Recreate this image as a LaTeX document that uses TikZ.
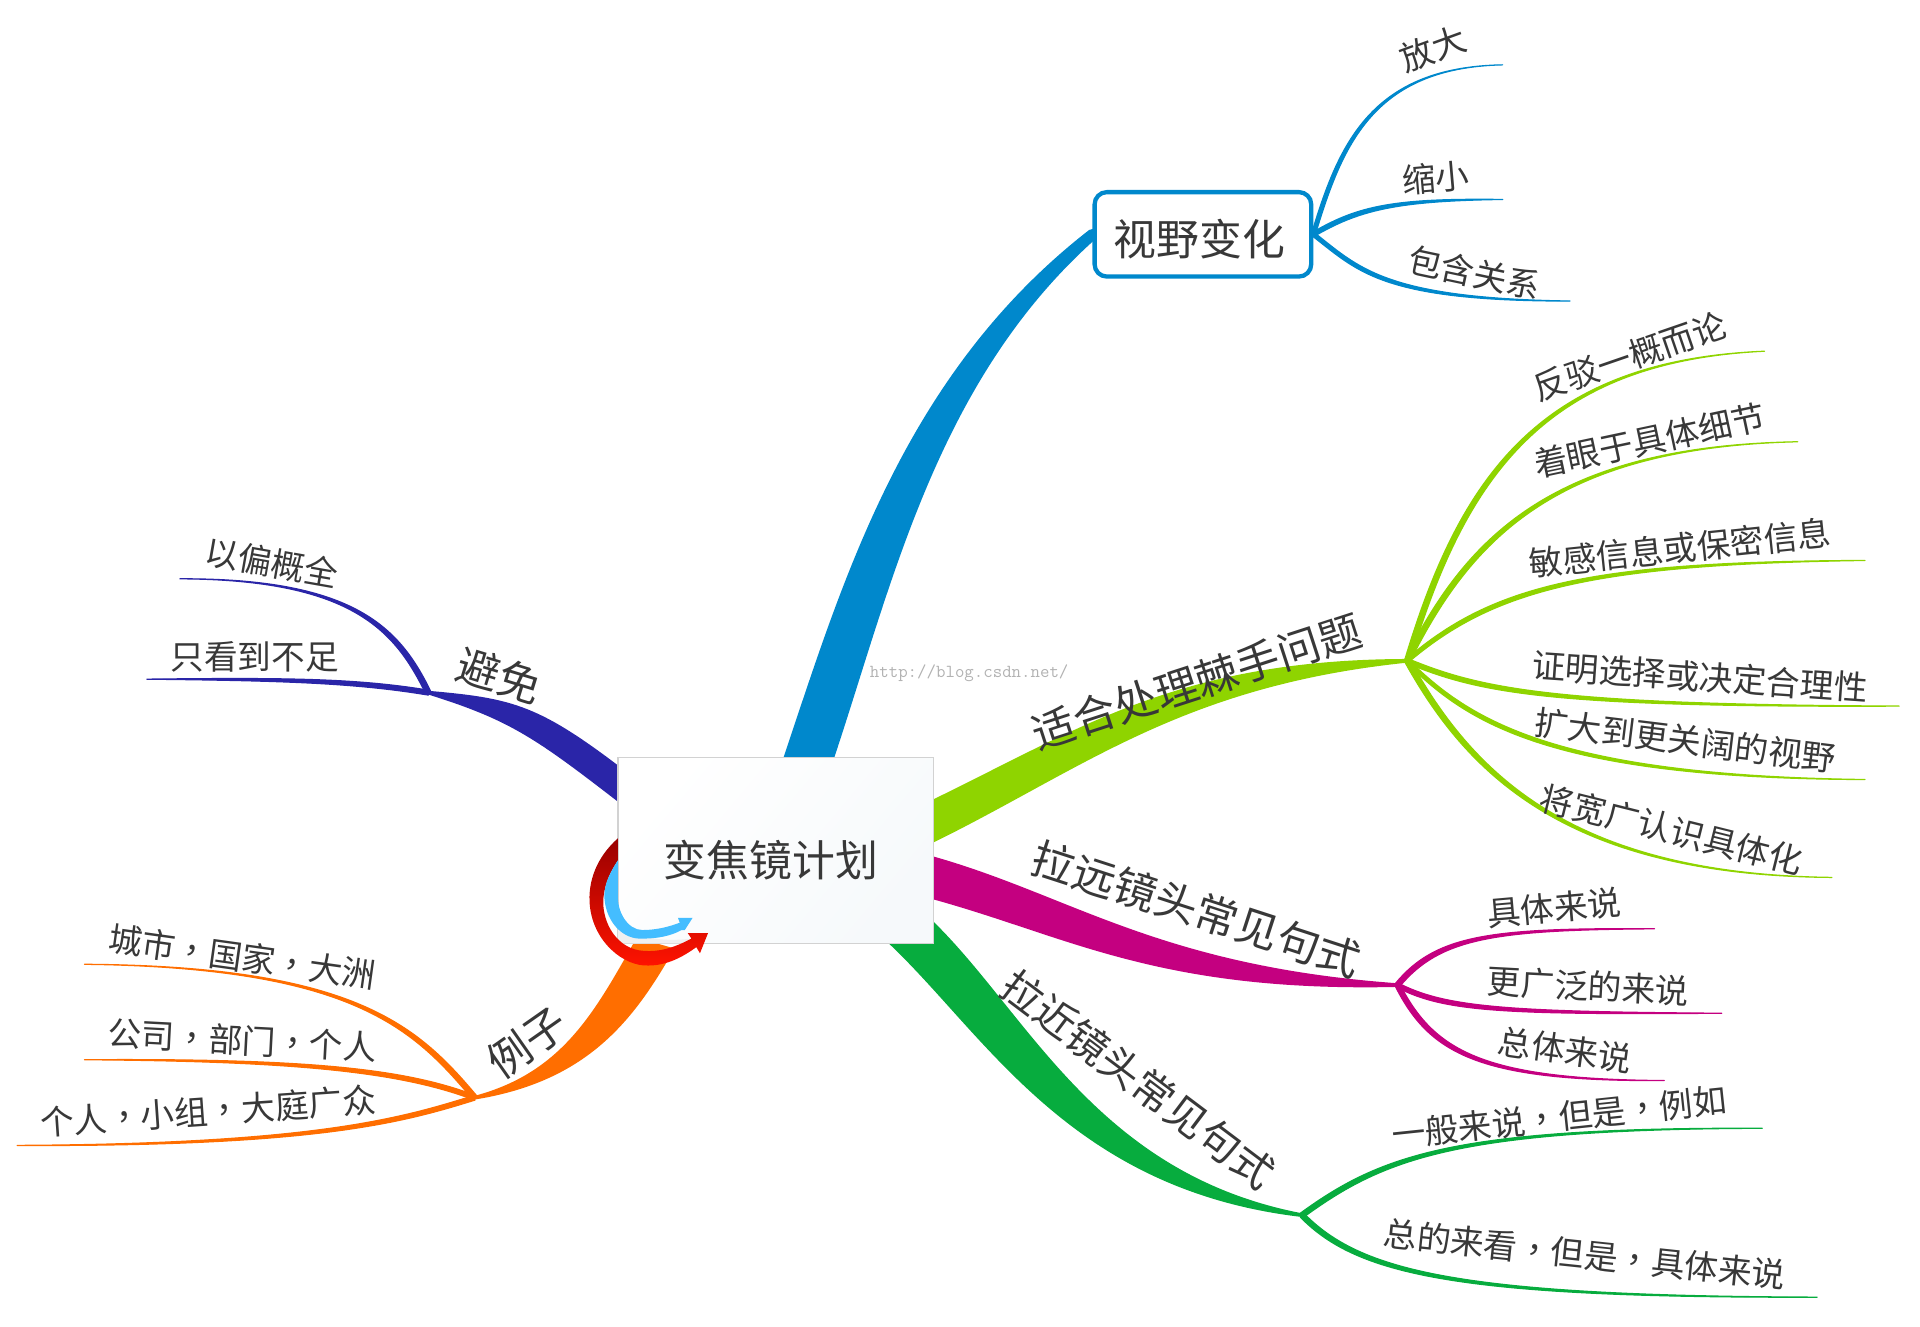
\documentclass[tikz,border=0pt]{standalone}
\usepackage{fontspec}
\setmainfont{Noto Sans CJK SC}
\newfontfamily\tcfont{Noto Sans CJK TC}
\usetikzlibrary{calc}
\pgfdeclarelayer{back}
\pgfsetlayers{back,main}
\definecolor{cblue}{HTML}{0088CC}
\definecolor{clime}{HTML}{8FD400}
\definecolor{cmag}{HTML}{C40080}
\definecolor{cgreen}{HTML}{07AC3E}
\definecolor{cnavy}{HTML}{2A25A8}
\definecolor{corange}{HTML}{FF6E00}
\definecolor{ctext}{HTML}{383838}
\definecolor{csky}{HTML}{44BDFF}
\definecolor{ctint}{HTML}{F6F9FB}
% tapered branch: style, start, control, control, end, half width at the start
\newcommand{\twig}[6]{\path[#1] ($(#2)+(#6)$) .. controls ($(#3)+(#6)$) and ($(#4)+0.6*(#6)$) .. (#5) .. controls ($(#4)-0.6*(#6)$) and ($(#3)-(#6)$) .. ($(#2)-(#6)$) -- cycle;}
% centred comma
\newcommand{\cma}{{\tcfont ，}}
\begin{document}
\begin{tikzpicture}[x=1pt,y=-1pt]
\tikzstyle{tx}=[inner sep=0pt, text=ctext, font=\fontsize{27.5}{30}\selectfont]
\tikzstyle{big}=[tx, font=\fontsize{35}{40}\selectfont]
\tikzstyle{blue}=[fill=cblue, draw=cblue, line width=1pt, line join=round]
\tikzstyle{lime}=[fill=clime, draw=clime, line width=1pt, line join=round]
\tikzstyle{mag}=[fill=cmag, draw=cmag, line width=1pt, line join=round]
\tikzstyle{green}=[fill=cgreen, draw=cgreen, line width=1pt, line join=round]
\tikzstyle{navy}=[fill=cnavy, draw=cnavy, line width=1pt, line join=round]
\tikzstyle{orange}=[fill=corange, draw=corange, line width=1pt, line join=round]
\tikzstyle{fat}=[line width=3pt]
\useasboundingbox (0,0) rectangle (1569,1084);

% junctions and free ends
\coordinate (Jlime) at (1150,540);
\coordinate (Jmag) at (1142,805);
\coordinate (Jgreen) at (1064,993);
\coordinate (Jnavy) at (350,566);
\coordinate (Jorange) at (388,897);
\coordinate (Sblue) at (659,625);
\coordinate (Slime) at (750,677);
\coordinate (Smag) at (750,714);
\coordinate (Sgreen) at (737,755);
\coordinate (Snavy) at (515,648);
\coordinate (Sorange) at (535,772);

\node[draw=cblue, line width=3.5pt, rounded corners=10pt, minimum width=177pt, minimum height=69pt, fill=white] (view) at (983,191.5) {};
\node[big] (viewtext) at (980,195) {视野变化};

\begin{pgfonlayer}{back}
% main branches
\twig{blue, line width=9pt}{Sblue}{708,480}{750,310}{view.west}{16,0}
\twig{lime, fat}{Slime}{880,615}{960,550}{Jlime}{0,16}
\twig{mag, fat}{Smag}{870,745}{940,800}{Jmag}{0,16}
\twig{green, fat}{Sgreen}{820,830}{880,965}{Jgreen}{16,-9}
\twig{navy, fat}{Snavy}{440,590}{420,580}{Jnavy}{0,13}
\twig{orange, fat}{Sorange}{502,830}{470,880}{Jorange}{14,4}

% blue leaves
\coordinate (Lzoomin) at (1228,53);
\coordinate (Lzoomout) at (1228,163);
\coordinate (Lcontain) at (1283,246);
\twig{blue}{view.east}{1095,120}{1120,55}{Lzoomin}{1.5,.5}
\twig{blue}{view.east}{1110,170}{1140,163}{Lzoomout}{0,2}
\twig{blue}{view.east}{1110,220}{1130,245}{Lcontain}{0,2}
\end{pgfonlayer}
\node[tx, rotate=20] (zoomin) at (1171,40) {放大};
\node[tx, rotate=5] (zoomout) at (1173,145) {缩小};
\node[tx, rotate=-12] (contain) at (1205,223) {包含关系};

% lime leaves
\coordinate (Lrefute) at (1442,287);
\coordinate (Ldetail) at (1469,361);
\coordinate (Lsecret) at (1524,458);
\coordinate (Lprove) at (1552,577);
\coordinate (Lwiden) at (1524,637);
\coordinate (Lfocus) at (1497,717);
\twig{lime}{Jlime}{1195,390}{1260,295}{Lrefute}{2,1}
\twig{lime}{Jlime}{1200,440}{1270,365}{Ldetail}{2,1}
\twig{lime}{Jlime}{1220,480}{1300,460}{Lsecret}{0,2}
\twig{lime}{Jlime}{1210,565}{1270,577}{Lprove}{0,2}
\twig{lime}{Jlime}{1200,590}{1270,635}{Lwiden}{0,2}
\twig{lime}{Jlime}{1200,630}{1280,715}{Lfocus}{2,-1}
\node[tx, rotate=19] (refute) at (1332,291) {反驳一概而论};
\node[tx, rotate=12] (detail) at (1348,360) {着眼于具体细节};
\node[tx, rotate=6] (secret) at (1373,448) {敏感信息或保密信息};
\node[tx, rotate=-4] (prove) at (1389,553) {证明选择或决定合理性};
\node[tx, rotate=-7] (widen) at (1377,605) {扩大到更关阔的视野};
\node[tx, rotate=-14] (focus) at (1366,678) {将宽广认识具体化};

% magenta leaves
\coordinate (Lconcrete) at (1352,759);
\coordinate (Lbroad) at (1407,828);
\coordinate (Loverall) at (1360,883);
\twig{mag}{Jmag}{1175,765}{1220,759}{Lconcrete}{1.5,1.5}
\twig{mag}{Jmag}{1180,825}{1230,828}{Lbroad}{0,2}
\twig{mag}{Jmag}{1170,860}{1210,883}{Loverall}{1.5,-1.5}
\node[tx, rotate=5] (concrete) at (1270,742) {具体来说};
\node[tx, rotate=-3] (broad) at (1298,806) {更广泛的来说};
\node[tx, rotate=-8] (overall) at (1279,858) {总体来说};

% green leaves
\coordinate (Lgeneral) at (1440,922);
\coordinate (Lsummary) at (1485,1060);
\twig{green}{Jgreen}{1130,945}{1190,922}{Lgeneral}{1.5,1.5}
\twig{green}{Jgreen}{1110,1040}{1190,1060}{Lsummary}{1.5,-1.5}
\node[tx, rotate=6] (general) at (1274,913) {一般来说\cma 但是\cma 例如};
\node[tx, rotate=-6] (summary) at (1295,1025) {总的来看\cma 但是\cma 具体来说};

% navy leaves
\coordinate (Lpart) at (147,473);
\coordinate (Lshort) at (120,555);
\twig{navy}{Jnavy}{325,515}{290,473}{Lpart}{2,-1}
\twig{navy}{Jnavy}{290,556}{230,555}{Lshort}{0,2}
\node[tx, rotate=-10] (part) at (222,460) {以偏概全};
\node[tx] (short) at (208,537) {只看到不足};

% orange leaves
\coordinate (Lcity) at (69,788);
\coordinate (Lcompany) at (69,866);
\coordinate (Lperson) at (14,936);
\twig{orange}{Jorange}{340,840}{290,790}{Lcity}{2,-1}
\twig{orange}{Jorange}{330,875}{250,866}{Lcompany}{0,2}
\twig{orange}{Jorange}{330,915}{260,936}{Lperson}{0,2}
\node[tx, rotate=-8] (city) at (198,782) {城市\cma 国家\cma 大洲};
\node[tx, rotate=-3] (company) at (198,850) {公司\cma 部门\cma 个人};
\node[tx, rotate=4] (person) at (170,908) {个人\cma 小组\cma 大庭广众};

% branch labels
\node[big, rotate=18] (hard) at (978,557) {适合处理棘手问题};
\node[big, rotate=-18] (wide) at (978,743) {拉远镜头常见句式};
\node[big, rotate=-37, scale=.96] (near) at (930,882) {拉近镜头常见句式};
\node[big, rotate=-17] (avoid) at (408,552) {避免};
\node[big, rotate=35] (example) at (431,852) {例子};

\node[font=\ttfamily\fontsize{15}{16}\selectfont, text=gray!60, inner sep=0pt] (mark) at (792,550) {http://blog.csdn.net/};

% centre card
\node[draw=gray!35, line width=1pt, left color=white, middle color=white, right color=ctint, shading angle=50, minimum width=258pt, minimum height=152pt, inner sep=0pt] (plan) at (634,695) {};
\node[big] (plantext) at (630,703) {变焦镜计划};

% curved arrows on the corner of the card
\fill[gray!12] (505,703) .. controls (490,735) and (500,775) .. (565,767) -- (560,771) -- (505,771) -- cycle;
\shade[top color=red!60!black, bottom color=red!85!orange] (505,685) .. controls (488,700) and (480,720) .. (482,740) .. controls (485,770) and (510,790) .. (530,789) .. controls (545,789) and (558,782) .. (569,774) -- (572,779) -- (578.6,762.5) -- (562,762.5) -- (565,767) .. controls (550,775) and (538,778) .. (526,777) .. controls (505,776) and (492,755) .. (493,735) .. controls (494,722) and (499,712) .. (505,703) -- cycle;
\fill[csky] (505,703) .. controls (497,715) and (493,725) .. (494,735) .. controls (496,755) and (510,768) .. (525,767) .. controls (537,767) and (548,765) .. (557,760) -- (559.6,760) -- (566,750) -- (554,750) -- (555.5,754) .. controls (545,758) and (535,760) .. (525,760) .. controls (513,760) and (504,745) .. (505,731) -- cycle;
\end{tikzpicture}
\end{document}
